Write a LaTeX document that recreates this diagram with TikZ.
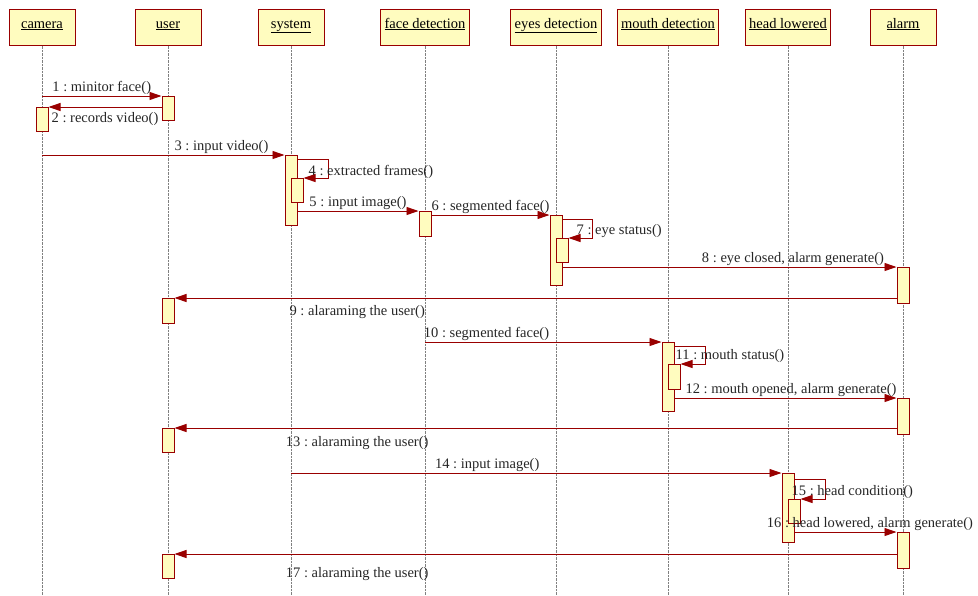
\documentclass[tikz,border=0pt]{standalone}
\usepackage{fontspec}
\setmainfont{Liberation Serif}
\usetikzlibrary{arrows.meta}
\frenchspacing

\begin{document}
\begin{tikzpicture}[
    x=1pt, y=-1pt,
    font=\fontsize{14.5}{16}\selectfont,
    obj/.style={rectangle, draw=red!60!black, fill=yellow!25, line width=1pt,
                minimum width=66pt, minimum height=36pt, inner xsep=4pt,
                text height=10pt, text depth=8pt},
    act/.style={rectangle, draw=red!60!black, fill=yellow!25, line width=1pt,
                minimum width=12pt, anchor=north, inner sep=0pt},
    life/.style={densely dotted, draw=black!50},
    msg/.style={-{Triangle[length=12pt,width=8pt]}, draw=red!60!black, line width=0.9pt},
    lbl/.style={inner sep=1pt, text=black!85}
]
\useasboundingbox (0,0) rectangle (978,595);

\node[obj] (camera) at (42,27) {\underline{camera}};
\node[obj] (user) at (168,27) {\underline{user}};
\node[obj] (system) at (291,27) {\underline{system}};
\node[obj] (face) at (425,27) {\underline{face detection}};
\node[obj] (eyes) at (556,27) {\underline{eyes detection}};
\node[obj] (mouth) at (668,27) {\underline{mouth detection}};
\node[obj] (head) at (788,27) {\underline{head lowered}};
\node[obj] (alarm) at (903,27) {\underline{alarm}};

\coordinate (bottom) at (0,595);
\foreach \n in {camera,user,system,face,eyes,mouth,head,alarm}
  \draw[life] (\n.south) -- (\n |- bottom);

\node[act, minimum height=24pt] (u1) at (168,96) {};
\node[act, minimum height=24pt] (c1) at (42,107) {};
\node[act, minimum height=70pt] (s1) at (291,155) {};
\node[act, minimum height=24pt] (s2) at (297,178) {};
\node[act, minimum height=25pt] (f1) at (425,211) {};
\node[act, minimum height=70pt] (e1) at (556,215) {};
\node[act, minimum height=24pt] (e2) at (562,238) {};
\node[act, minimum height=36pt] (a1) at (903,267) {};
\node[act, minimum height=25pt] (u2) at (168,298) {};
\node[act, minimum height=69pt] (m1) at (668,342) {};
\node[act, minimum height=25pt] (m2) at (674,364) {};
\node[act, minimum height=36pt] (a2) at (903,398) {};
\node[act, minimum height=24pt] (u3) at (168,428) {};
\node[act, minimum height=69pt] (h1) at (788,473) {};
\node[act, minimum height=24pt] (h2) at (794,499) {};
\node[act, minimum height=36pt] (a3) at (903,532) {};
\node[act, minimum height=24pt] (u4) at (168,554) {};

\draw[msg] (camera |- u1.north) -- node[lbl, above] {1 : minitor face()} (u1.north west);
\draw[msg] (u1.west |- c1.north) -- node[lbl, below=4pt] {2 : records video()} (c1.north east);
\draw[msg] (camera |- s1.north) -- node[lbl, above, pos=0.74] {3 : input video()} (s1.north west);
\draw[msg] ([yshift=-4pt]s1.north east) -- ++(31,0) |- (s2.north east);
\node[lbl, anchor=base west] at ([shift={(4pt,3pt)}]s2.north east) {4 : extracted frames()};
\draw[msg] (s1.east |- f1.north) -- node[lbl, above] {5 : input image()} (f1.north west);
\draw[msg] (f1.east |- e1.north) -- node[lbl, above] {6 : segmented face()} (e1.north west);
\draw[msg] ([yshift=-4pt]e1.north east) -- ++(30,0) |- (e2.north east);
\node[lbl, anchor=base west] at ([shift={(7pt,4pt)}]e2.north east) {7 : eye status()};
\draw[msg] (e1.east |- a1.north) -- node[lbl, above, pos=0.69] {8 : eye closed, alarm generate()} (a1.north west);
\draw[msg] (a1.west |- u2.north) -- node[lbl, below=6pt, pos=0.747] {9 : alaraming the user()} (u2.north east);
\draw[msg] (face |- m1.north) -- node[lbl, above, pos=0.26] {10 : segmented face()} (m1.north west);
\draw[msg] ([yshift=-4pt]m1.north east) -- ++(31,0) |- (m2.north east);
\node[lbl, anchor=base west] at ([shift={(-6pt,5pt)}]m2.north east) {11 : mouth status()};
\draw[msg] (m1.east |- a2.north) -- node[lbl, above, pos=0.525] {12 : mouth opened, alarm generate()} (a2.north west);
\draw[msg] (a2.west |- u3.north) -- node[lbl, below=7pt, pos=0.747] {13 : alaraming the user()} (u3.north east);
\draw[msg] (system |- h1.north) -- node[lbl, above, pos=0.4] {14 : input image()} (h1.north west);
\draw[msg] ([yshift=-6pt]h1.north east) -- ++(31,0) |- (h2.north east);
\node[lbl, anchor=base west] at ([shift={(-10pt,4pt)}]h2.north east) {15 : head condition()};
\draw[msg] (h1.east |- a3.north) -- node[lbl, above, pos=0.74] {16 : head lowered, alarm generate()} (a3.north west);
\draw[msg] (a3.west |- u4.north) -- node[lbl, below=12pt, pos=0.747] {17 : alaraming the user()} (u4.north east);
\end{tikzpicture}
\end{document}
